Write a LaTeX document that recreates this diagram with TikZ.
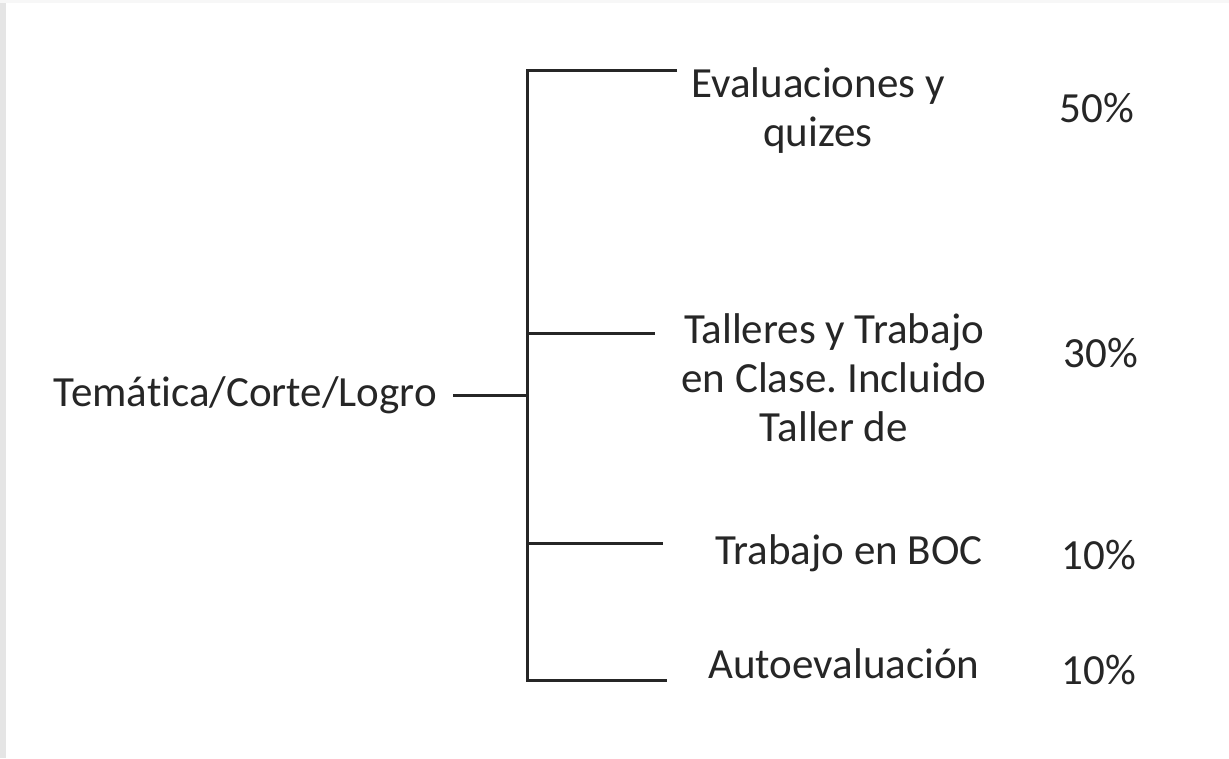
\documentclass[tikz,border=0pt]{standalone}
\usepackage{fontspec}
\setmainfont[Ligatures={NoCommon}]{Carlito}
\frenchspacing
\begin{document}
\begin{tikzpicture}[x=1pt,y=-1pt,
  lbl/.style={inner sep=0pt,align=center,text=black!85,font=\fontsize{43}{49}\selectfont},
  ln/.style={line width=3pt,draw=black!85}]
\useasboundingbox (0,0) rectangle (1229,758);
\fill[white] (0,0) rectangle (1229,758);
\fill[black!10] (0,0) rectangle (6,758);
\fill[black!3] (0,0) rectangle (1229,3);
% root
\node[lbl,anchor=east] (root) at (437,395) {Temática/Corte/Logro};
\coordinate (j) at (527,395);
\coordinate (t1) at (527,70);
\coordinate (t4) at (527,680);
\coordinate (t2) at (527,333);
\coordinate (t3) at (527,543);
% branch ends
\coordinate (e1) at (677,70);
\coordinate (e2) at (655,333);
\coordinate (e3) at (663,543);
\coordinate (e4) at (667,680);
\draw[ln] ([xshift=16pt]root.east) -- (j);
\draw[ln] (e1) -- (t1) -- (t4) -- (e4);
\draw[ln] (t2) -- (e2);
\draw[ln] (t3) -- (e3);
% labels
\node[lbl] (a) at (818,111) {Evaluaciones y\\quizes};
\node[lbl] (b) at (834,378) {Talleres y Trabajo\\en Clase. Incluido\\Taller de};
\node[lbl] (c) at (849,553) {Trabajo en BOC};
\node[lbl] (d) at (844,664) {Autoevaluación};
\node[lbl] (pa) at (1097,108) {50\%};
\node[lbl] (pb) at (1101,353) {30\%};
\node[lbl] (pc) at (1099,555) {10\%};
\node[lbl] (pd) at (1099,670) {10\%};
\end{tikzpicture}
\end{document}
